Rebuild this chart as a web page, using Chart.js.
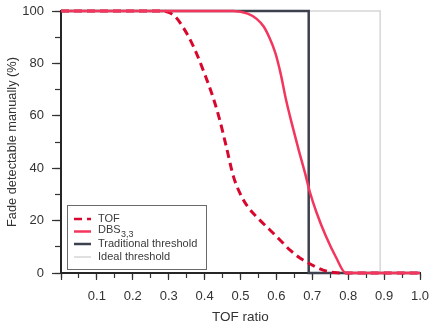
<!DOCTYPE html>
<html><head><meta charset="utf-8">
<script src="https://cdn.jsdelivr.net/npm/chart.js@4/dist/chart.umd.min.js"></script>
<style>html,body{margin:0;padding:0;background:#fff;} canvas{display:block;}</style>
</head><body>
<canvas id="c" width="433" height="328"></canvas>
<script>
// ---- data ----
const tofX = [0, 0.28, 0.30, 0.32, 0.34, 0.36, 0.38, 0.40, 0.42, 0.44, 0.46, 0.48, 0.50, 0.52, 0.55, 0.58, 0.61, 0.64, 0.67, 0.70, 0.73, 0.76, 0.78, 1.0];
const tofY = [100, 100, 99.5, 97.6, 93.8, 89, 83, 76, 68.5, 59.5, 48.5, 37, 30, 25.3, 20.7, 16.7, 12.6, 8.5, 5.3, 3.0, 1.1, 0.2, 0, 0];
const dbsX = [0, 0.48, 0.52, 0.545, 0.565, 0.58, 0.597, 0.612, 0.627, 0.643, 0.662, 0.68, 0.693, 0.712, 0.738, 0.766, 0.793, 1.0];
const dbsY = [100, 100, 99, 97, 94, 90, 84, 76, 66, 57, 47, 38, 31, 23, 14, 6, 0, 0];
const traditionalX = [0, 0.69, 0.69, 1.0];
const traditionalY = [100, 100, 0, 0];
const idealX = [0, 0.889, 0.889, 1.0];
const idealY = [100, 100, 0, 0];
const seriesNames = ['TOF', 'DBS', 'Traditional threshold', 'Ideal threshold'];
const seriesSubscripts = ['', '3,3', '', ''];
const xTitle = 'TOF ratio';
const yTitle = 'Fade detectable manually (%)';

const pts = (xs, ys) => xs.map((x, i) => ({x, y: ys[i]}));
const FONT = "'Liberation Sans', Arial, Helvetica, sans-serif";
Chart.defaults.font.family = FONT;
Chart.defaults.color = '#333';

const fixBox = (dim, val) => s => {
  s[dim] = val;
  s.paddingTop = 0; s.paddingBottom = 0; s.paddingLeft = 0; s.paddingRight = 0;
};

const legendPlugin = {
  id: 'boxLegend',
  afterDatasetsDraw(chart) {
    const ctx = chart.ctx;
    ctx.save();
    ctx.fillStyle = '#fff';
    ctx.fillRect(68, 206, 138, 63);
    ctx.strokeStyle = '#6a6a6a';
    ctx.lineWidth = 1;
    ctx.strokeRect(67.5, 205.5, 139, 64);
    const rowsY = [219, 231.5, 244, 257];
    chart.data.datasets.forEach((ds, i) => {
      const y = rowsY[i];
      ctx.beginPath();
      ctx.strokeStyle = ds.borderColor;
      ctx.lineWidth = Math.min(ds.borderWidth, 2.5);
      ctx.setLineDash(ds.borderDash || []);
      ctx.moveTo(74, y); ctx.lineTo(91, y);
      ctx.stroke();
      ctx.setLineDash([]);
      ctx.fillStyle = '#3a3a3a';
      ctx.textBaseline = 'middle';
      ctx.textAlign = 'left';
      ctx.font = '11px ' + FONT;
      const main = seriesNames[i];
      const ty = seriesSubscripts[i] ? y - 1.5 : y;
      ctx.fillText(main, 98, ty);
      if (seriesSubscripts[i]) {
        const w = ctx.measureText(main).width;
        ctx.font = '9px ' + FONT;
        ctx.fillText(seriesSubscripts[i], 98 + w + 0.5, ty + 5);
      }
    });
    ctx.restore();
  }
};

new Chart(document.getElementById('c'), {
  type: 'line',
  data: {
    datasets: [
      { label: seriesNames[0], data: pts(tofX, tofY), borderColor: '#d8072e', borderWidth: 3, borderDash: [8, 5],
        cubicInterpolationMode: 'monotone', order: 1 },
      { label: seriesNames[1] + seriesSubscripts[1], data: pts(dbsX, dbsY), borderColor: '#f3365d', borderWidth: 2.5,
        cubicInterpolationMode: 'monotone', order: 0 },
      { label: seriesNames[2], data: pts(traditionalX, traditionalY), borderColor: '#3d414e', borderWidth: 2.5,
        tension: 0, order: 2 },
      { label: seriesNames[3], data: pts(idealX, idealY), borderColor: '#d6d6d6', borderWidth: 1.5,
        tension: 0, order: 3 }
    ]
  },
  options: {
    responsive: false,
    animation: false,
    devicePixelRatio: 1,
    layout: { padding: { top: 11, right: 13, left: 0, bottom: 0 } },
    elements: { point: { radius: 0 }, line: { fill: false } },
    datasets: { line: { clip: false } },
    plugins: { legend: { display: false }, tooltip: { enabled: false } },
    scales: {
      x: {
        type: 'linear', min: 0, max: 1, weight: 1,
        afterFit: fixBox('height', 55),
        ticks: {
          stepSize: 0.1, autoSkip: false, maxRotation: 0, padding: 9,
          font: { size: 13 }, color: '#333',
          callback: v => { const k = Math.round(v * 10); return k > 0 ? (k / 10).toFixed(1) : ''; }
        },
        grid: { drawOnChartArea: false, drawTicks: true, tickLength: 7, tickColor: '#333', tickWidth: 1.2 },
        border: { display: true, color: '#262626', width: 2 },
        title: { display: true, text: xTitle, font: { size: 13.5 }, color: '#333', padding: { top: 0, bottom: 3 } }
      },
      x2: {
        type: 'linear', min: 0, max: 1, position: 'bottom', weight: 0,
        afterFit: fixBox('height', 0),
        ticks: { stepSize: 0.05, display: false, autoSkip: false },
        grid: { drawOnChartArea: false, drawTicks: true, tickLength: 5, tickColor: '#333', tickWidth: 1.2 },
        border: { display: false }
      },
      y: {
        type: 'linear', min: 0, max: 100, weight: 1,
        afterFit: fixBox('width', 61),
        ticks: { stepSize: 20, padding: 8, font: { size: 13 }, color: '#333' },
        grid: { drawOnChartArea: false, drawTicks: true, tickLength: 9, tickColor: '#333', tickWidth: 1.2 },
        border: { display: true, color: '#262626', width: 2 },
        title: { display: true, text: yTitle, font: { size: 12.8 }, color: '#333', padding: { top: 5, bottom: 0 } }
      },
      y2: {
        type: 'linear', min: 0, max: 100, position: 'left', weight: 0,
        afterFit: fixBox('width', 0),
        ticks: { stepSize: 10, display: false },
        grid: { drawOnChartArea: false, drawTicks: true, tickLength: 6, tickColor: '#333', tickWidth: 1.2 },
        border: { display: false }
      }
    }
  },
  plugins: [legendPlugin]
});
</script>
</body></html>
